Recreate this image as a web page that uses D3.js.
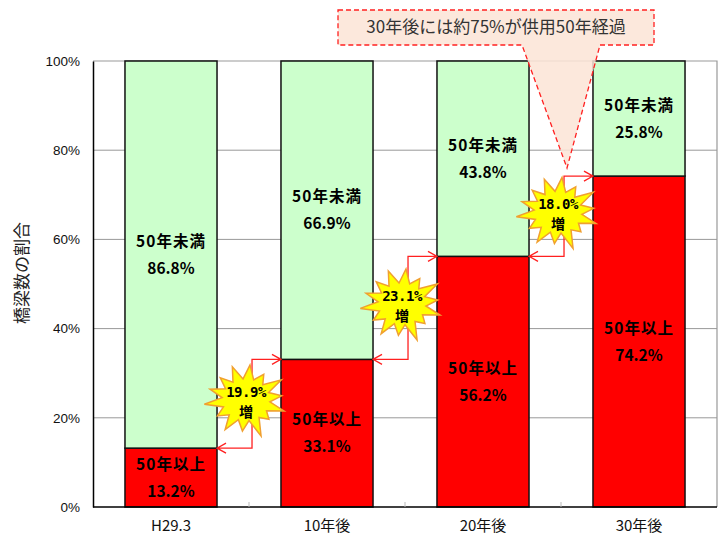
<!DOCTYPE html>
<html>
<head>
<meta charset="utf-8">
<script src="https://cdn.jsdelivr.net/npm/d3@7"></script>
<style>
  body { margin: 0; background: #fff; }
  svg { display: block; }
</style>
</head>
<body>
<svg id="svg"></svg>
<script>
"use strict";

// data
var categories = ["H29.3", "10年後", "20年後", "30年後"];
var over50  = [13.2, 33.1, 56.2, 74.2];   // 50年以上
var under50 = [86.8, 66.9, 43.8, 25.8];   // 50年未満
var increase = ["19.9%", "23.1%", "18.0%"];
var yTicks = [0, 20, 40, 60, 80, 100];
var yTitle = "橋梁数の割合";
var callout = "30年後には約75%が供用50年経過";

var width = 726, height = 538,
	margin = {top: 61, right: 9, bottom: 31, left: 93},
	jp = "'Noto Sans CJK JP', 'Noto Sans', sans-serif",
	latin = "'Liberation Sans', Arial, sans-serif";

var svg = d3.select("#svg").attr("width", width).attr("height", height);

var x = d3.scaleBand()
	.domain(categories)
	.range([margin.left, width - margin.right])
	.paddingInner(0.41)
	.paddingOuter(0.205);

var y = d3.scaleLinear()
	.domain([0, 100])
	.range([height - margin.bottom, margin.top]);

// grid
svg.append("g")
	.selectAll("line")
	.data(yTicks.filter(function(d){ return d > 0 && d < 100; }))
	.join("line")
	.attr("x1", margin.left).attr("x2", width - margin.right)
	.attr("y1", function(d){ return y(d); }).attr("y2", function(d){ return y(d); })
	.style("stroke", "#999").style("stroke-width", 1);

// plot frame top/right
svg.append("path")
	.attr("d", "M" + margin.left + "," + y(100) + "H" + (width - margin.right) + "V" + y(0))
	.style("fill", "none").style("stroke", "#999").style("stroke-width", 1.2);

// bars
var stacks = categories.map(function(c, i){
	return {cat: c, lo: over50[i], hi: under50[i]};
});

var bars = svg.append("g").selectAll("g").data(stacks).join("g");

bars.append("rect")
	.attr("x", function(d){ return x(d.cat); })
	.attr("width", x.bandwidth())
	.attr("y", function(d){ return y(d.lo); })
	.attr("height", function(d){ return y(0) - y(d.lo); })
	.style("fill", "#ff0000").style("stroke", "#111").style("stroke-width", 1.5);

bars.append("rect")
	.attr("x", function(d){ return x(d.cat); })
	.attr("width", x.bandwidth())
	.attr("y", function(d){ return y(d.lo + d.hi); })
	.attr("height", function(d){ return y(d.lo) - y(d.lo + d.hi); })
	.style("fill", "#ccffcc").style("stroke", "#111").style("stroke-width", 1.5);

function segLabel(sel, title, val, mid){
	var cx = function(d){ return x(d.cat) + x.bandwidth() / 2; };
	var t = sel.append("text")
		.attr("text-anchor", "middle")
		.style("font-family", jp).style("font-size", "15.5px").style("font-weight", "bold")
		.style("fill", "#000");
	t.append("tspan")
		.attr("x", cx)
		.attr("y", function(d){ return mid(d) - 8; })
		.style("letter-spacing", "1px")
		.text(title);
	t.append("tspan")
		.attr("x", cx)
		.attr("y", function(d){ return mid(d) + 19; })
		.text(function(d){ return val(d).toFixed(1) + "%"; });
}
segLabel(bars, "50年以上", function(d){ return d.lo; }, function(d){ return y(d.lo / 2); });
segLabel(bars, "50年未満", function(d){ return d.hi; }, function(d){ return y(d.lo + d.hi / 2); });

// axes
var yAxis = svg.append("g")
	.attr("transform", "translate(" + margin.left + ",0)")
	.call(d3.axisLeft(y).tickValues(yTicks).tickSize(0).tickPadding(13)
		.tickFormat(function(d){ return d + "%"; }));
yAxis.select(".domain").style("stroke", "#000").style("stroke-width", 1.5);
yAxis.selectAll("text").style("font-family", latin).style("font-size", "13.5px").style("fill", "#111");

var xAxis = svg.append("g")
	.attr("transform", "translate(0," + y(0) + ")")
	.call(d3.axisBottom(x).tickSize(0).tickPadding(13));
xAxis.select(".domain").attr("d", "M" + margin.left + ",0H" + (width - margin.right))
	.style("stroke", "#000").style("stroke-width", 1.5);
xAxis.selectAll("text").style("font-family", jp).style("font-size", "15px").style("fill", "#111");

// small separators between categories
svg.append("g").selectAll("line")
	.data(categories.slice(1))
	.join("line")
	.attr("x1", function(d){ return x(d) - x.step() * x.paddingInner() / 2; })
	.attr("x2", function(d){ return x(d) - x.step() * x.paddingInner() / 2; })
	.attr("y1", y(0)).attr("y2", y(0) - 5)
	.style("stroke", "#bbb");

svg.append("text")
	.attr("transform", "translate(28,273) rotate(-90)")
	.attr("text-anchor", "middle")
	.style("font-family", jp).style("font-size", "17px").style("fill", "#222")
	.text(yTitle);

// callout
var cb = {x1: 338, x2: 654, y1: 10, y2: 45};
var tipX = 567, tipY = 168;
svg.append("path")
	.attr("d", "M" + cb.x1 + "," + cb.y1 + "H" + cb.x2 + "V" + cb.y2 + "H600L" + tipX + "," + tipY +
		"L522," + cb.y2 + "H" + cb.x1 + "Z")
	.style("fill", "#fce4d6").style("fill-opacity", 0.85)
	.style("stroke", "#ff2020").style("stroke-width", 1.3).style("stroke-dasharray", "5,3");
svg.append("text")
	.attr("x", (cb.x1 + cb.x2) / 2).attr("y", 33)
	.attr("text-anchor", "middle")
	.style("font-family", jp).style("font-size", "17px").style("fill", "#333")
	.text(callout);

// growth connectors + starbursts
function star(cx, cy){
	var n = 14, pts = [];
	var outer = [1.0, 0.85, 1.05, 0.9, 1.0, 0.8, 1.1, 0.9, 1.0, 0.85, 1.05, 0.95, 0.9, 1.0];
	for (var k = 0; k < n * 2; k++){
		var a = Math.PI * k / n - Math.PI / 2 + 0.1;
		var f = k % 2 === 0 ? outer[k / 2] : 0.6;
		pts.push([cx + Math.cos(a) * 40 * f, cy + Math.sin(a) * 35 * f]);
	}
	return "M" + pts.join("L") + "Z";
}

var arrows = d3.range(increase.length).map(function(i){
	return {
		from: x(categories[i]) + x.bandwidth(),
		to: x(categories[i + 1]),
		y0: y(over50[i]),
		y1: y(over50[i + 1]),
		label: increase[i]
	};
});

var conn = svg.append("g").selectAll("g").data(arrows).join("g");

conn.append("path")
	.attr("d", function(d){
		var vx = d.from + 35;
		return "M" + d.from + "," + d.y0 + "H" + vx + "V" + d.y1 + "H" + d.to +
			"M" + (d.from + 9) + "," + (d.y0 - 5) + "L" + d.from + "," + d.y0 + "L" + (d.from + 9) + "," + (d.y0 + 5) +
			"M" + (d.to - 9) + "," + (d.y1 - 5) + "L" + d.to + "," + d.y1 + "L" + (d.to - 9) + "," + (d.y1 + 5);
	})
	.style("fill", "none").style("stroke", "#ff2020").style("stroke-width", 1.3);

conn.append("path")
	.attr("d", function(d){ return star(d.from + 29, (d.y0 + d.y1) / 2 - 4); })
	.style("fill", "#ffff00").style("stroke", "#f0a030").style("stroke-width", 1.5);

conn.append("text")
	.attr("x", function(d){ return d.from + 29; })
	.attr("y", function(d){ return (d.y0 + d.y1) / 2 - 7; })
	.attr("text-anchor", "middle")
	.style("font-family", "'DejaVu Sans Mono', " + jp).style("font-size", "14px").style("font-weight", "bold")
	.style("letter-spacing", "-0.5px")
	.text(function(d){ return d.label; });

conn.append("text")
	.attr("x", function(d){ return d.from + 29; })
	.attr("y", function(d){ return (d.y0 + d.y1) / 2 + 13; })
	.attr("text-anchor", "middle")
	.style("font-family", jp).style("font-size", "14px").style("font-weight", "bold")
	.text("増");
</script>
</body>
</html>
